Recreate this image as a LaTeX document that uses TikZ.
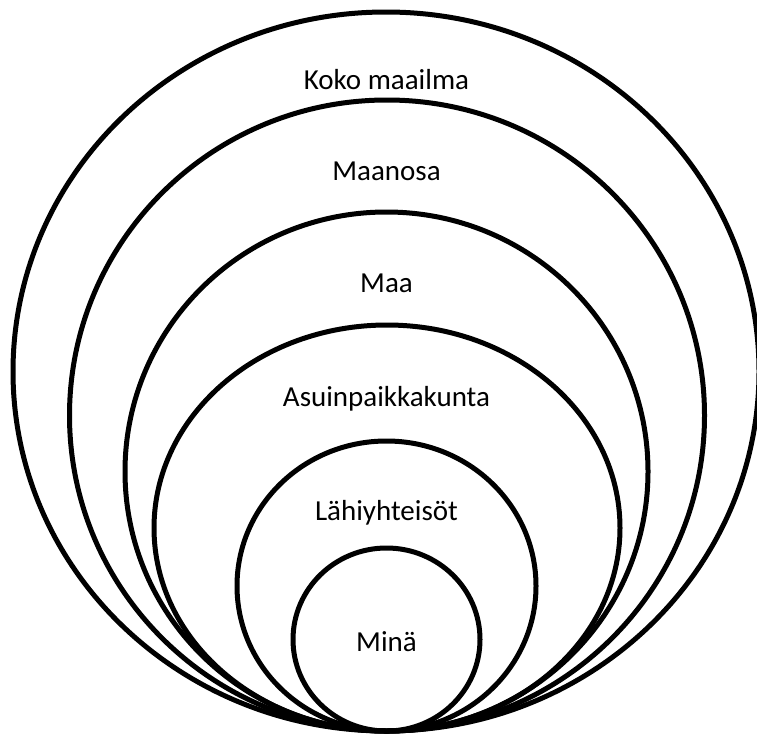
\documentclass[tikz,border=0pt]{standalone}
\usepackage{fontspec}
\setmainfont{Carlito}
\tikzset{
  ring/.style={line width=5pt},
  ringlabel/.style={font=\fontsize{29}{34}\selectfont, anchor=base, inner sep=0pt}
}
\begin{document}
\begin{tikzpicture}[x=1pt, y=-1pt]
  \useasboundingbox (0,0) rectangle (757,737);
  \draw[ring] (386,371.5) ellipse [x radius=373, y radius=359.5];
  \draw[ring] (387,415.5) ellipse [x radius=317.5, y radius=315.5];
  \draw[ring] (386.5,471.5) ellipse [x radius=261.5, y radius=259.5];
  \draw[ring] (387,528) ellipse [x radius=233, y radius=203];
  \draw[ring] (386.5,586) ellipse [x radius=149.5, y radius=145];
  \draw[ring] (386.5,639.5) ellipse [x radius=93.5, y radius=91.5];
  \node[ringlabel] (world) at (386.5,89) {Koko maailma};
  \node[ringlabel] (continent) at (386.5,180) {Maanosa};
  \node[ringlabel] (country) at (386.5,292) {Maa};
  \node[ringlabel] (hometown) at (386.5,406) {Asuinpaikkakunta};
  \node[ringlabel] (community) at (386.5,520) {Lähiyhteisöt};
  \node[ringlabel] (me) at (386.5,651) {Minä};
\end{tikzpicture}
\end{document}
